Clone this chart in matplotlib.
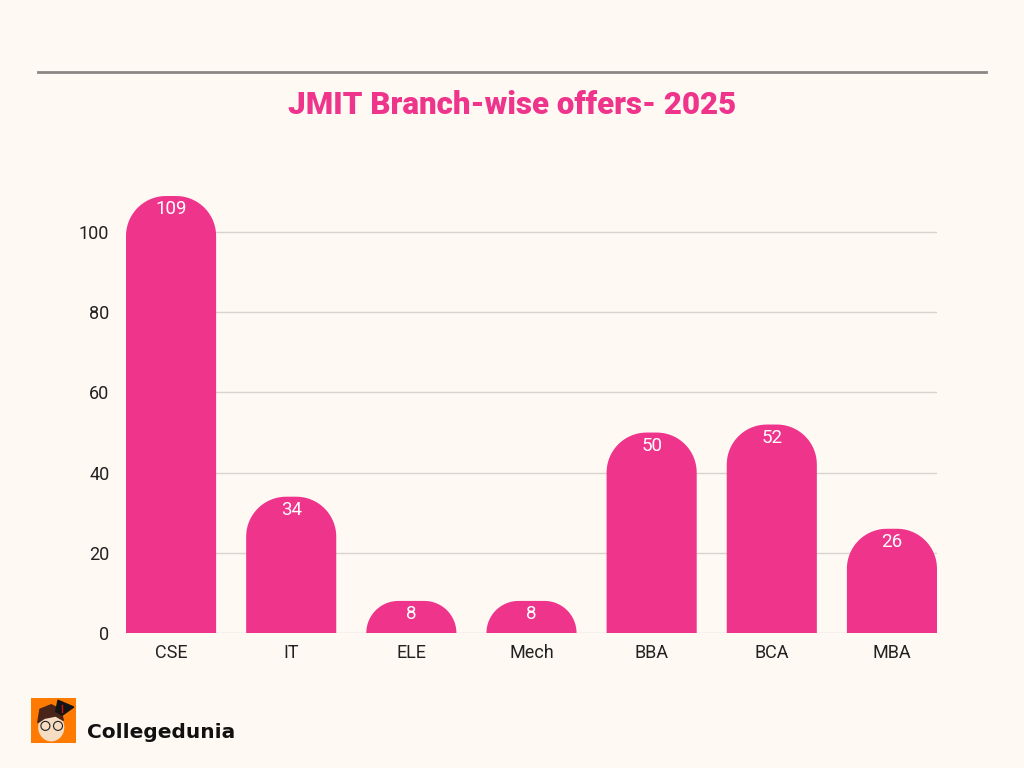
import numpy as np
import matplotlib
matplotlib.use('Agg')
import matplotlib.pyplot as plt
from matplotlib.path import Path
from matplotlib.patches import PathPatch, Rectangle, Circle, Ellipse, Polygon
from matplotlib.lines import Line2D

# data
branches = ['CSE', 'IT', 'ELE', 'Mech', 'BBA', 'BCA', 'MBA']
offers = [109, 34, 8, 8, 50, 52, 26]
yticks = [0, 20, 40, 60, 80, 100]

bg = '#FFF9F3'
pink = '#EE348B'

fig = plt.figure(figsize=(10.24, 7.68), dpi=100, facecolor=bg)
ax = fig.add_axes([126 / 1024, 1 - 633 / 768, 811 / 1024, 441 / 768])
ax.set_facecolor(bg)
ax.set_xlim(-0.375, len(branches) - 0.625)
ax.set_ylim(0, 110)

# px per data unit
p0 = ax.transData.transform((0, 0))
p1 = ax.transData.transform((1, 1))
px_x = p1[0] - p0[0]
px_y = p1[1] - p0[1]

bar_w = 0.75
r_px = 40


def rounded_bar(x, h):
    hw = bar_w / 2
    h_px = h * px_y
    r = min(r_px, h_px, hw * px_x)
    rx = r / px_x
    ry = r / px_y
    t = np.linspace(0, np.pi / 2, 20)
    verts = [(x - hw, 0), (x - hw, h - ry)]
    # left corner
    for a in t:
        verts.append((x - hw + rx - rx * np.cos(a), h - ry + ry * np.sin(a)))
    # right corner
    for a in t[::-1]:
        verts.append((x + hw - rx + rx * np.cos(a), h - ry + ry * np.sin(a)))
    verts.append((x + hw, 0))
    verts.append((x - hw, 0))
    codes = [Path.MOVETO] + [Path.LINETO] * (len(verts) - 2) + [Path.CLOSEPOLY]
    return PathPatch(Path(verts, codes), facecolor=pink, edgecolor='none', zorder=3)


for i, v in enumerate(offers):
    ax.add_patch(rounded_bar(i, v))
    ax.text(i, v - 13 / px_y, str(v), ha='center', va='center', color='white',
            fontsize=13.5, family='Roboto', zorder=4)

ax.set_yticks(yticks)
ax.set_xticks(range(len(branches)))
ax.set_xticklabels(branches)
ax.yaxis.grid(True, color='#D8D3CE', linewidth=1)
ax.set_axisbelow(True)
for s in ax.spines.values():
    s.set_visible(False)
ax.tick_params(length=0, labelsize=13, labelcolor='#222222')
ax.tick_params(axis='y', pad=12)
ax.tick_params(axis='x', pad=8)
for lab in ax.get_xticklabels() + ax.get_yticklabels():
    lab.set_family(['Roboto', 'DejaVu Sans'])

# title and top rule
fig.add_artist(Line2D([38 / 1024, 986 / 1024], [1 - 72 / 768] * 2, color='#8A8784', linewidth=2))
fig.text(512 / 1024, 1 - 105 / 768, 'JMIT Branch-wise offers- 2025', ha='center', va='center',
         color=pink, fontsize=22.5, fontweight='heavy', family='Roboto')

# logo
lax = fig.add_axes([31 / 1024, 1 - 743 / 768, 45 / 1024, 45 / 768])
lax.set_xlim(0, 1)
lax.set_ylim(0, 1)
lax.axis('off')
lax.add_patch(Rectangle((0, 0), 1, 1, color='#FF7A00'))
lax.add_patch(Ellipse((0.45, 0.35), 0.55, 0.6, color='#F6DCC2'))
lax.add_patch(Polygon([[0.15, 0.45], [0.2, 0.75], [0.45, 0.85], [0.65, 0.75], [0.72, 0.5], [0.55, 0.6], [0.3, 0.55]],
                      color='#4A2418'))
lax.add_patch(Polygon([[0.6, 0.95], [0.95, 0.8], [0.7, 0.62], [0.55, 0.7]], color='#141414'))
lax.plot([0.68, 0.68], [0.85, 0.68], color='#D01010', lw=1)
lax.add_patch(Circle((0.32, 0.38), 0.1, fill=False, ec='#222222', lw=0.8))
lax.add_patch(Circle((0.6, 0.38), 0.1, fill=False, ec='#222222', lw=0.8))
fig.text(87 / 1024, 1 - 732 / 768, 'Collegedunia', ha='left', va='center', color='#111111',
         fontsize=14.5, fontweight='bold', family='DejaVu Sans')

fig.savefig('out.png', dpi=100, facecolor=bg)
